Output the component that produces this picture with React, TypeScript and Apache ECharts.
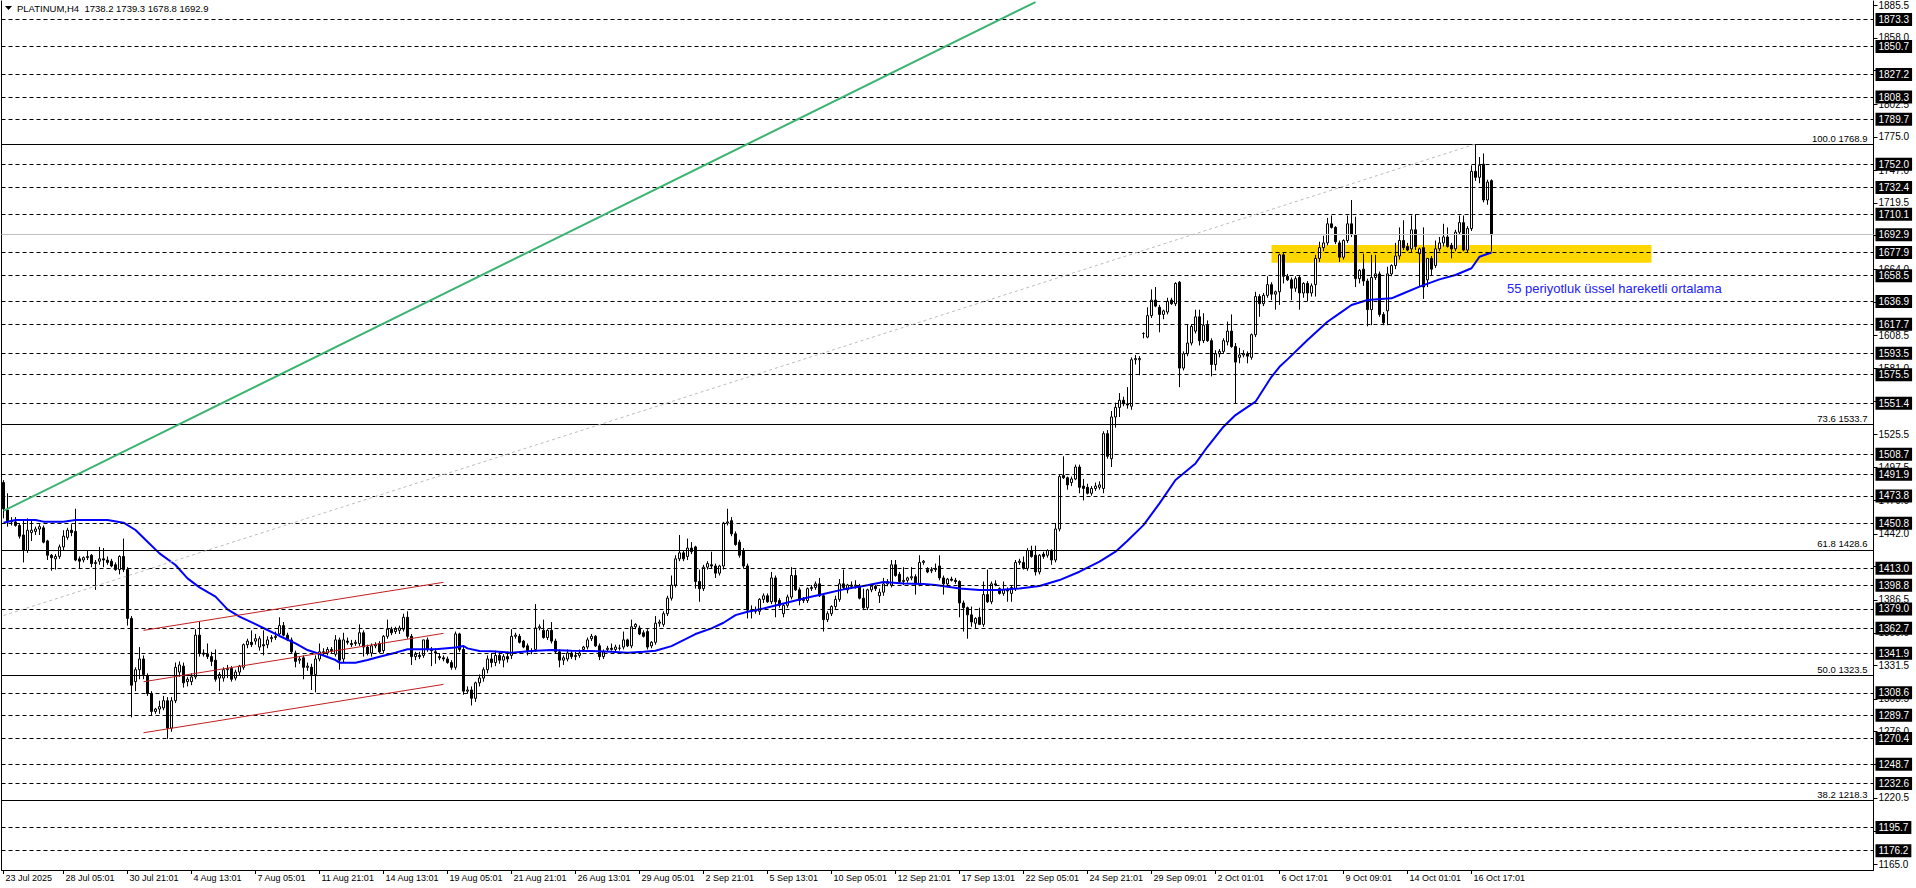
import React, { useEffect, useRef } from "react";
import * as echarts from "echarts";

const FONT = "'Liberation Sans', Arial, sans-serif";
const symbolName = "PLATINUM,H4";

// x-axis labels: bar 0, then every 16 bars starting at bar 15
const xLabels = [
  "23 Jul 2025", "28 Jul 05:01", "30 Jul 21:01", "4 Aug 13:01", "7 Aug 05:01", "11 Aug 21:01",
  "14 Aug 13:01", "19 Aug 05:01", "21 Aug 21:01", "26 Aug 13:01", "29 Aug 05:01", "2 Sep 21:01",
  "5 Sep 13:01", "10 Sep 05:01", "12 Sep 21:01", "17 Sep 13:01", "22 Sep 05:01", "24 Sep 21:01",
  "29 Sep 09:01", "2 Oct 01:01", "6 Oct 17:01", "9 Oct 09:01", "14 Oct 01:01", "16 Oct 17:01",
];
const xLabelBars = [0, 15, 31, 47, 63, 79, 95, 111, 127, 143, 159, 175, 191, 207, 223, 239, 255, 271, 287, 303, 319, 335, 351, 367];
const totalSlots = 468;

// H4 candles: [open, high, low, close]
const ohlc: number[][] = [
  [1485,1487,1455,1463],[1462,1476,1448,1453],[1453,1456,1449,1452],[1452,1456,1448,1449],[1449,1451,1438,1440],
  [1441,1454,1418,1428],[1428,1455,1426,1445],[1443,1454,1436,1445],[1444,1448,1441,1446],[1446,1450,1441,1448],
  // 10
  [1447,1449,1434,1435],[1436,1437,1420,1424],[1424,1425,1411,1422],[1421,1425,1412,1423],[1423,1433,1421,1431],
  [1431,1445,1428,1440],[1439,1447,1437,1445],[1445,1450,1440,1443],[1444,1463,1419,1420],[1421,1423,1413,1419],
  // 20
  [1420,1423,1418,1422],[1422,1428,1420,1423],[1424,1425,1414,1417],[1417,1420,1395,1418],[1419,1431,1416,1421],
  [1421,1430,1414,1420],[1420,1423,1416,1418],[1419,1421,1414,1415],[1416,1418,1411,1412],[1412,1424,1408,1423],
  // 30
  [1423,1438,1410,1412],[1412,1414,1365,1371],[1371,1373,1288,1315],[1318,1330,1310,1328],[1328,1347,1320,1337],
  [1337,1340,1320,1324],[1323,1325,1306,1308],[1308,1310,1290,1293],[1293,1296,1291,1295],[1295,1302,1291,1297],
  // 40
  [1296,1306,1294,1302],[1302,1305,1270,1279],[1279,1305,1276,1302],[1302,1334,1300,1330],[1326,1335,1322,1332],
  [1331,1334,1313,1317],[1318,1322,1314,1320],[1318,1325,1315,1322],[1322,1362,1320,1357],[1357,1368,1339,1342],
  // 50
  [1342,1345,1339,1341],[1341,1350,1337,1339],[1339,1343,1331,1335],[1336,1345,1318,1320],[1321,1326,1310,1324],
  [1321,1330,1318,1328],[1328,1332,1321,1329],[1329,1331,1318,1320],[1321,1328,1319,1326],[1326,1332,1323,1331],
  // 60
  [1330,1350,1328,1349],[1349,1354,1346,1352],[1351,1361,1347,1349],[1352,1358,1349,1354],[1347,1356,1344,1354],
  [1349,1361,1340,1348],[1349,1356,1346,1353],[1354,1357,1351,1355],[1355,1360,1353,1356],[1358,1372,1356,1365],
  // 70
  [1365,1368,1356,1357],[1357,1359,1352,1353],[1353,1355,1342,1343],[1342,1344,1330,1335],[1336,1339,1333,1337],
  [1338,1340,1320,1330],[1330,1334,1327,1331],[1330,1333,1311,1324],[1324,1340,1309,1337],[1337,1350,1335,1343],
  // 80
  [1343,1346,1340,1342],[1342,1347,1340,1345],[1345,1347,1342,1344],[1341,1357,1339,1353],[1353,1355,1328,1336],
  [1337,1359,1334,1353],[1352,1355,1349,1351],[1350,1353,1347,1349],[1350,1353,1348,1351],[1350,1366,1348,1359],
  // 90
  [1359,1361,1339,1347],[1347,1349,1340,1342],[1342,1350,1339,1348],[1348,1351,1346,1349],[1350,1352,1342,1343],
  [1344,1357,1342,1356],[1356,1370,1354,1362],[1362,1364,1357,1359],[1360,1364,1358,1362],[1361,1365,1358,1363],
  // 100
  [1362,1375,1360,1372],[1372,1377,1354,1356],[1356,1358,1332,1339],[1339,1343,1336,1341],[1340,1343,1337,1339],
  [1340,1353,1338,1353],[1353,1355,1343,1345],[1345,1347,1331,1344],[1343,1346,1333,1342],[1339,1342,1336,1338],
  // 110
  [1338,1340,1335,1337],[1337,1339,1333,1334],[1334,1336,1328,1330],[1330,1360,1328,1358],[1358,1359,1343,1345],
  [1345,1347,1307,1310],[1310,1314,1308,1311],[1311,1314,1298,1304],[1304,1318,1301,1317],[1317,1324,1314,1321],
  // 120
  [1321,1330,1318,1328],[1328,1340,1325,1337],[1337,1342,1330,1334],[1334,1344,1331,1340],[1340,1343,1333,1336],
  [1336,1341,1330,1339],[1339,1343,1334,1337],[1340,1362,1337,1356],[1356,1359,1354,1357],[1356,1358,1350,1351],
  // 130
  [1352,1353,1346,1347],[1348,1350,1340,1344],[1344,1346,1341,1343],[1345,1383,1343,1363],[1363,1366,1361,1364],
  [1361,1370,1354,1355],[1355,1362,1353,1361],[1361,1368,1350,1352],[1352,1354,1342,1343],[1343,1345,1330,1336],
  // 140
  [1336,1340,1332,1338],[1337,1345,1335,1342],[1342,1344,1337,1339],[1339,1343,1336,1340],[1340,1345,1338,1342],
  [1345,1348,1343,1347],[1347,1355,1345,1353],[1354,1358,1352,1356],[1356,1357,1347,1348],[1348,1350,1336,1339],
  // 150
  [1339,1345,1337,1343],[1345,1348,1343,1346],[1346,1350,1344,1345],[1345,1349,1343,1347],[1346,1349,1344,1346],
  [1347,1360,1345,1353],[1353,1354,1347,1348],[1348,1370,1346,1364],[1364,1367,1362,1366],[1363,1365,1357,1358],
  // 160
  [1359,1361,1355,1356],[1360,1362,1345,1347],[1348,1352,1346,1351],[1351,1373,1349,1367],[1367,1370,1364,1368],
  [1366,1377,1364,1375],[1375,1390,1373,1388],[1388,1407,1386,1399],[1399,1424,1397,1421],[1421,1441,1419,1426],
  // 170
  [1426,1428,1419,1421],[1423,1438,1420,1430],[1430,1435,1425,1427],[1431,1432,1396,1402],[1402,1412,1385,1396],
  [1396,1416,1394,1414],[1414,1419,1412,1417],[1416,1427,1413,1415],[1415,1417,1405,1409],[1409,1416,1407,1415],
  // 180
  [1415,1452,1412,1451],[1451,1463,1449,1452],[1453,1456,1440,1442],[1442,1444,1432,1433],[1435,1437,1422,1424],
  [1428,1430,1413,1415],[1415,1417,1371,1378],[1378,1382,1371,1377],[1378,1381,1375,1377],[1377,1388,1374,1387],
  // 190
  [1387,1392,1384,1390],[1390,1392,1384,1385],[1385,1410,1383,1405],[1405,1407,1372,1385],[1386,1388,1380,1382],
  [1375,1384,1372,1382],[1382,1391,1380,1389],[1389,1414,1387,1407],[1407,1412,1394,1395],[1395,1397,1382,1386],
  // 200
  [1386,1389,1384,1387],[1386,1397,1384,1396],[1396,1399,1394,1397],[1397,1402,1395,1400],[1400,1405,1389,1390],
  [1390,1392,1360,1370],[1370,1377,1368,1375],[1375,1382,1373,1381],[1381,1390,1379,1387],[1387,1404,1385,1400],
  // 210
  [1400,1412,1395,1397],[1395,1400,1392,1399],[1399,1402,1396,1398],[1398,1403,1396,1399],[1398,1400,1387,1388],
  [1388,1396,1378,1380],[1380,1396,1378,1395],[1395,1400,1393,1398],[1398,1399,1394,1396],[1390,1396,1384,1393],
  // 220
  [1393,1405,1390,1400],[1400,1404,1398,1402],[1399,1420,1397,1416],[1416,1420,1406,1407],[1408,1410,1400,1402],
  [1402,1414,1399,1403],[1403,1406,1401,1405],[1405,1414,1403,1406],[1406,1408,1391,1400],[1400,1424,1398,1418],
  // 230
  [1418,1420,1416,1419],[1412,1414,1409,1410],[1411,1414,1409,1412],[1412,1417,1410,1413],[1415,1424,1403,1405],
  [1405,1407,1391,1400],[1400,1405,1398,1404],[1404,1406,1402,1403],[1403,1405,1400,1402],[1402,1403,1372,1384],
  // 240
  [1384,1386,1360,1380],[1380,1381,1354,1374],[1374,1381,1364,1368],[1367,1372,1363,1371],[1372,1380,1366,1366],
  [1366,1402,1364,1391],[1391,1412,1384,1385],[1385,1402,1383,1400],[1400,1403,1398,1399],[1396,1397,1391,1392],
  // 250
  [1392,1402,1390,1395],[1395,1397,1385,1394],[1392,1399,1385,1397],[1396,1420,1394,1418],[1418,1421,1416,1419],
  [1418,1423,1412,1413],[1413,1430,1411,1428],[1428,1432,1422,1423],[1424,1432,1407,1410],[1410,1425,1408,1424],
  // 260
  [1425,1427,1421,1423],[1424,1429,1422,1428],[1428,1429,1416,1420],[1420,1451,1418,1446],[1446,1492,1444,1490],
  [1491,1507,1488,1489],[1489,1490,1479,1483],[1485,1490,1482,1488],[1488,1500,1487,1498],[1498,1500,1476,1481],
  // 270
  [1482,1488,1470,1480],[1481,1484,1475,1476],[1476,1482,1474,1480],[1480,1485,1478,1482],[1481,1486,1479,1483],
  [1480,1528,1476,1526],[1526,1529,1505,1507],[1505,1545,1498,1540],[1540,1552,1531,1548],[1548,1560,1540,1554],
  // 280
  [1554,1557,1549,1551],[1551,1565,1547,1550],[1549,1590,1546,1588],[1588,1592,1584,1589],[1588,1591,1575,1589],
  [1610,1611,1606,1610],[1607,1632,1606,1625],[1625,1647,1623,1638],[1638,1649,1632,1633],[1632,1634,1611,1626],
  // 290
  [1626,1630,1622,1629],[1628,1640,1626,1637],[1638,1640,1634,1635],[1635,1653,1633,1652],[1653,1654,1565,1581],
  [1581,1595,1579,1593],[1593,1618,1591,1602],[1602,1618,1600,1616],[1612,1630,1610,1624],[1624,1630,1600,1604],
  // 300
  [1604,1627,1602,1617],[1617,1621,1603,1604],[1604,1606,1574,1584],[1584,1596,1579,1593],[1593,1597,1590,1595],
  [1595,1606,1593,1604],[1603,1620,1600,1612],[1612,1626,1598,1599],[1599,1602,1551,1586],[1590,1598,1585,1592],
  // 310
  [1592,1596,1590,1593],[1593,1595,1585,1591],[1590,1610,1588,1609],[1609,1645,1607,1641],[1641,1643,1624,1635],
  [1635,1644,1633,1642],[1642,1658,1640,1651],[1651,1653,1638,1643],[1643,1646,1630,1645],[1645,1677,1634,1676],
  // 320
  [1676,1678,1652,1658],[1658,1660,1654,1655],[1655,1657,1638,1648],[1648,1658,1645,1656],[1657,1659,1630,1644],
  [1644,1653,1640,1652],[1652,1654,1637,1644],[1644,1652,1641,1650],[1651,1676,1641,1673],[1673,1687,1670,1682],
  // 330
  [1682,1692,1679,1686],[1686,1707,1684,1702],[1702,1709,1698,1699],[1699,1700,1685,1687],[1686,1688,1670,1674],
  [1674,1689,1672,1688],[1688,1709,1686,1702],[1702,1722,1691,1693],[1693,1708,1649,1656],[1656,1664,1652,1663],
  // 340
  [1664,1677,1650,1654],[1654,1656,1616,1630],[1630,1676,1617,1657],[1657,1676,1655,1660],[1660,1662,1624,1626],
  [1626,1628,1617,1619],[1629,1666,1617,1660],[1660,1668,1658,1667],[1667,1686,1664,1675],[1675,1699,1672,1688],
  // 350
  [1688,1705,1680,1682],[1683,1686,1679,1680],[1681,1709,1678,1697],[1697,1710,1680,1683],[1677,1682,1649,1681],
  [1682,1699,1639,1649],[1655,1673,1649,1673],[1673,1675,1659,1664],[1667,1688,1665,1681],[1681,1691,1679,1686],
  // 360
  [1686,1702,1683,1691],[1691,1699,1682,1683],[1684,1686,1673,1681],[1681,1697,1679,1695],[1695,1709,1693,1703],
  [1703,1709,1679,1680],[1680,1700,1678,1698],[1698,1751,1696,1746],[1746,1768.9,1738,1741],[1741,1758,1736,1751],
  // 370
  [1752,1761,1720,1722],[1722,1739,1718,1737],[1738.2,1739.3,1678.8,1692.9],
];

// 55-period EMA: [bar, value]
const emaPts: number[][] = [
  [0,1451.3],[3,1453.6],[8,1453.6],[10,1452.2],[15,1452.2],[18,1453.6],[26,1453.6],[30,1451.3],
  [32.5,1445.2],[36,1435.4],[39,1425.6],[42.5,1415.8],[46,1404.6],[49,1397.1],[52.5,1389.3],[56,1378.6],
  [59,1372.5],[62.5,1366.3],[66,1361.3],[69,1356.3],[72.5,1350.1],[76,1344.5],[79,1341.2],[82.5,1336.1],
  [84,1333.9],[87.5,1333.9],[91,1336.1],[94,1338.9],[97.5,1342.3],[101,1345.1],[107.5,1345.1],[112.5,1346.7],
  [114.5,1347.9],[116,1345.9],[119,1343.7],[122,1343.4],[126.5,1342.3],[131.5,1343.7],[136.5,1344.5],
  [141.5,1343.9],[146.5,1343.7],[151.5,1343.1],[156,1342.3],[160,1343.1],[163,1343.9],[166.5,1347.8],
  [170,1352.9],[173,1357.9],[176.5,1362.7],[180,1367.4],[183,1373.8],[186,1376.6],[190,1379.4],[195,1383.6],
  [200,1387.8],[205,1391.5],[210,1395.4],[215,1398.2],[220,1401.5],[225,1400.4],[230,1399.9],[233,1399.0],
  [236.5,1397.1],[239,1396.2],[244,1394.8],[249,1394.8],[254,1396.2],[259,1398.2],[264,1403.2],[269,1410.2],
  [274,1418.6],[277.5,1427.0],[281,1436.2],[285,1449.3],[289,1467.5],[293,1487.1],[297.5,1501.0],[301,1515.0],
  [305,1531.8],[308,1541.6],[312.5,1552.8],[316.5,1573.7],[319,1582.1],[321,1588.3],[326,1604.5],[331,1619.9],
  [334,1626.9],[336.5,1633.9],[341,1638.1],[346.5,1639.5],[349,1642.3],[354,1649.3],[359,1655.4],[362.5,1659.1],
  [366.5,1664.7],[369,1674.4],[372,1677.9],
];

// horizontal dashed price lines
const hLevels = [
  1873.3, 1850.7, 1827.2, 1808.3, 1789.7, 1752.0, 1732.4, 1710.1, 1677.9, 1658.5, 1636.9, 1617.7, 1593.5, 1575.5,
  1551.4, 1508.7, 1491.9, 1473.8, 1450.8, 1413.0, 1398.8, 1379.0, 1362.7, 1341.9, 1308.6, 1289.7, 1270.4, 1248.7,
  1232.6, 1195.7, 1176.2,
];
// fibonacci retracement levels [percent, price]
const fibLevels = [[100.0, 1768.9], [73.6, 1533.7], [61.8, 1428.6], [50.0, 1323.5], [38.2, 1218.3]];
// price scale ticks, and the scale labels that are not covered by a line's price box
const yTicks = [
  1885.5, 1858.0, 1830.5, 1802.5, 1775.0, 1747.0, 1719.5, 1692.0, 1664.0, 1636.5, 1608.5, 1581.0, 1553.0, 1525.5,
  1497.5, 1470.0, 1442.0, 1414.5, 1386.5, 1359.0, 1331.5, 1303.5, 1276.0, 1248.5, 1220.5, 1192.5, 1165.0,
];
const yLabels = [
  1885.5, 1858.0, 1802.5, 1775.0, 1747.0, 1719.5, 1664.0, 1608.5, 1581.0, 1525.5,
  1497.5, 1470.0, 1442.0, 1386.5, 1359.0, 1331.5, 1303.5, 1276.0, 1220.5, 1165.0,
];
const Y_MIN = 1160.0;
const Y_MAX = 1888.9;

const greenTrend = [[0, 1461.3], [258, 1888.0]];
const fibTrend = [[0, 1373.4], [368, 1768.9]];
const redChannel = [
  [[35, 1361.0], [110, 1401.3]],
  [[35, 1317.9], [110, 1358.5]],
  [[35, 1275.1], [110, 1315.7]],
];
const zone = [[317, 1684.2], [412, 1669.3]];
const note = "55 periyotluk üssel hareketli ortalama";

export default function App() {
  const ref = useRef<HTMLDivElement>(null);

  useEffect(() => {
    document.body.style.margin = "0";
    if (!ref.current) return;
    const chart = echarts.init(ref.current, undefined, { renderer: "svg" });

    const labelAt = new Map<number, string>();
    xLabelBars.forEach((b, k) => labelAt.set(b, xLabels[k]));
    const cats = Array.from({ length: totalSlots }, (_, i) => String(i));
    const last = ohlc[ohlc.length - 1];
    const bid = last[3];

    const boxLabel = (v: number) => ({
      show: true,
      position: "end",
      formatter: v.toFixed(1),
      backgroundColor: "#000",
      color: "#fff",
      fontFamily: FONT,
      fontSize: 10,
      padding: [2, 3, 1, 3],
      distance: 2,
    });

    const markLineData: any[] = [];
    hLevels.forEach((v) =>
      markLineData.push({
        yAxis: v,
        lineStyle: { color: "#000", type: [4, 3], width: 1 },
        label: boxLabel(v),
      })
    );
    markLineData.push({
      yAxis: bid,
      lineStyle: { color: "#c0c0c0", type: "solid", width: 1 },
      label: boxLabel(bid),
    });
    fibLevels.forEach(([pct, v]) =>
      markLineData.push({
        yAxis: v,
        lineStyle: { color: "#000", type: "solid", width: 1 },
        label: {
          show: true,
          position: "insideEndTop",
          formatter: `${pct.toFixed(1)} ${v.toFixed(1)}`,
          color: "#000",
          fontFamily: FONT,
          fontSize: 9.5,
          distance: [6, 1],
        },
      })
    );
    markLineData.push([
      { coord: greenTrend[0], lineStyle: { color: "#3cb371", width: 2, type: "solid" }, label: { show: false } },
      { coord: greenTrend[1] },
    ]);
    markLineData.push([
      { coord: fibTrend[0], lineStyle: { color: "#bdbdbd", width: 1, type: [3, 3] }, label: { show: false } },
      { coord: fibTrend[1] },
    ]);
    redChannel.forEach((seg) =>
      markLineData.push([
        { coord: seg[0], lineStyle: { color: "#c02020", width: 1, type: "solid" }, label: { show: false } },
        { coord: seg[1] },
      ])
    );

    const option: any = {
      animation: false,
      backgroundColor: "#ffffff",
      grid: { left: 1.5, right: 42.5, top: 1, bottom: 18, containLabel: false, outerBoundsMode: "none" },
      xAxis: {
        type: "category",
        data: cats,
        boundaryGap: true,
        axisLine: { show: true, lineStyle: { color: "#000", width: 1 } },
        axisTick: {
          show: true,
          alignWithLabel: true,
          interval: (i: number) => labelAt.has(i),
          length: 4,
          lineStyle: { color: "#000" },
        },
        axisLabel: {
          show: true,
          interval: (i: number) => labelAt.has(i),
          formatter: (_v: string, i: number) => labelAt.get(i) ?? "",
          align: "left",
          margin: 3,
          padding: [0, 0, 0, 2],
          fontSize: 9,
          color: "#000",
          fontFamily: FONT,
        },
        splitLine: { show: false },
      },
      yAxis: [
        {
          type: "value",
          position: "right",
          min: Y_MIN,
          max: Y_MAX,
          scale: true,
          axisLine: { show: true, lineStyle: { color: "#000", width: 1 } },
          axisTick: { show: true, length: 4, customValues: yTicks, lineStyle: { color: "#000" } },
          axisLabel: {
            show: true,
            customValues: yLabels,
            formatter: (v: number) => v.toFixed(1),
            margin: 5,
            fontSize: 10,
            color: "#000",
            fontFamily: FONT,
          },
          splitLine: { show: false },
        },
        {
          type: "value",
          position: "left",
          min: Y_MIN,
          max: Y_MAX,
          scale: true,
          axisLine: { show: true, lineStyle: { color: "#000", width: 1 } },
          axisTick: { show: false },
          axisLabel: { show: false },
          splitLine: { show: false },
        },
      ],
      series: [
        {
          type: "line",
          data: [],
          z: 1,
          silent: true,
          markArea: {
            silent: true,
            itemStyle: { color: "#FFD700", opacity: 1 },
            data: [[{ coord: zone[0] }, { coord: zone[1] }]],
          },
        },
        {
          type: "line",
          data: [],
          z: 2,
          silent: true,
          markLine: {
            silent: true,
            symbol: ["none", "none"],
            animation: false,
            data: markLineData,
          },
        },
        {
          type: "candlestick",
          data: ohlc.map(([o, h, l, c]) => [o, c, l, h]),
          barWidth: 2,
          z: 3,
          silent: true,
          itemStyle: {
            color: "#ffffff",
            color0: "#000000",
            borderColor: "#000000",
            borderColor0: "#000000",
            borderColorDoji: "#000000",
            borderWidth: 1,
          },
        },
        {
          type: "line",
          data: emaPts,
          z: 4,
          silent: true,
          showSymbol: false,
          symbol: "none",
          smooth: false,
          lineStyle: { color: "#0000ff", width: 2 },
        },
      ],
      graphic: [
        {
          type: "polygon",
          shape: { points: [[5, 6], [12, 6], [8.5, 10]] },
          style: { fill: "#000" },
          silent: true,
        },
        {
          type: "text",
          left: 17,
          top: 3,
          silent: true,
          style: {
            text: `${symbolName}  ${last[0].toFixed(1)} ${last[1].toFixed(1)} ${last[2].toFixed(1)} ${last[3].toFixed(1)}`,
            fontSize: 9.5,
            fontFamily: FONT,
            fill: "#000",
          },
        },
        {
          type: "text",
          left: 1507,
          top: 282,
          silent: true,
          style: { text: note, fontSize: 13, fontFamily: FONT, fill: "#2020ff" },
        },
      ],
    };

    chart.setOption(option);
    return () => chart.dispose();
  }, []);

  return <div ref={ref} style={{ width: 1916, height: 888 }} />;
}
